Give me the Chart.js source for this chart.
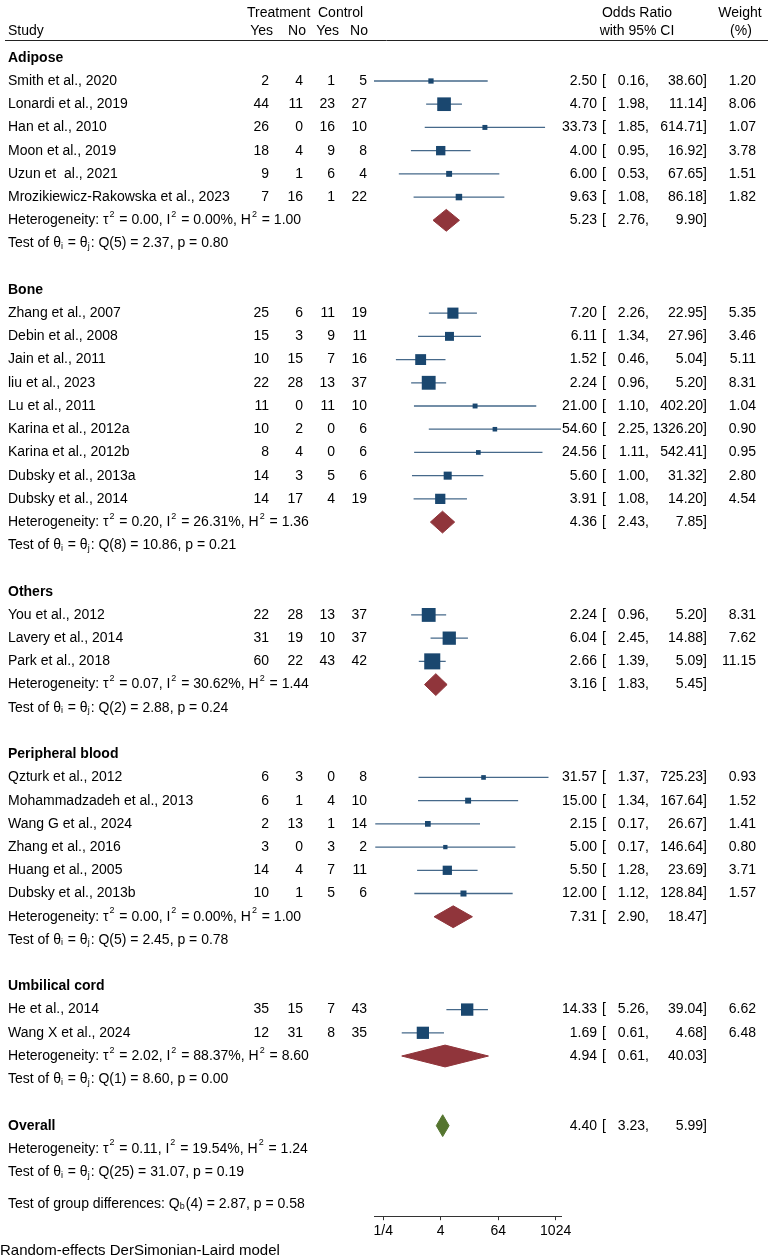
<!DOCTYPE html>
<html>
<head>
<meta charset="utf-8">
<title>Forest plot</title>
<script src="https://cdn.jsdelivr.net/npm/chart.js@4.4.1/dist/chart.umd.min.js"></script>
<style>
  html, body { margin: 0; padding: 0; background: #fff; }
  #wrap { width: 775px; height: 1258px; }
</style>
</head>
<body>
<div id="wrap"><canvas id="forest" width="775" height="1258"></canvas></div>
<script>
// ---- data ----
const groupNames = ['Adipose', 'Bone', 'Others', 'Peripheral blood', 'Umbilical cord'];

const studies = [
  'Smith et al., 2020', 'Lonardi et al., 2019', 'Han et al., 2010', 'Moon et al., 2019',
  'Uzun et  al., 2021', 'Mrozikiewicz-Rakowska et al., 2023',
  'Zhang et al., 2007', 'Debin et al., 2008', 'Jain et al., 2011', 'liu et al., 2023',
  'Lu et al., 2011', 'Karina et al., 2012a', 'Karina et al., 2012b', 'Dubsky et al., 2013a',
  'Dubsky et al., 2014',
  'You et al., 2012', 'Lavery et al., 2014', 'Park et al., 2018',
  'Qzturk et al., 2012', 'Mohammadzadeh et al., 2013', 'Wang G et al., 2024',
  'Zhang et al., 2016', 'Huang et al., 2005', 'Dubsky et al., 2013b',
  'He et al., 2014', 'Wang X et al., 2024'
];
const studyGroup = [0,0,0,0,0,0, 1,1,1,1,1,1,1,1,1, 2,2,2, 3,3,3,3,3,3, 4,4];

const treatYes = [2, 44, 26, 18, 9, 7, 25, 15, 10, 22, 11, 10, 8, 14, 14, 22, 31, 60, 6, 6, 2, 3, 14, 10, 35, 12];
const treatNo  = [4, 11, 0, 4, 1, 16, 6, 3, 15, 28, 0, 2, 4, 3, 17, 28, 19, 22, 3, 1, 13, 0, 4, 1, 15, 31];
const ctrlYes  = [1, 23, 16, 9, 6, 1, 11, 9, 7, 13, 11, 0, 0, 5, 4, 13, 10, 43, 0, 4, 1, 3, 7, 5, 7, 8];
const ctrlNo   = [5, 27, 10, 8, 4, 22, 19, 11, 16, 37, 10, 6, 6, 6, 19, 37, 37, 42, 8, 10, 14, 2, 11, 6, 43, 35];

const oddsRatio = [2.50, 4.70, 33.73, 4.00, 6.00, 9.63, 7.20, 6.11, 1.52, 2.24, 21.00, 54.60, 24.56, 5.60, 3.91,
                   2.24, 6.04, 2.66, 31.57, 15.00, 2.15, 5.00, 5.50, 12.00, 14.33, 1.69];
const ciLower  = [0.16, 1.98, 1.85, 0.95, 0.53, 1.08, 2.26, 1.34, 0.46, 0.96, 1.10, 2.25, 1.11, 1.00, 1.08,
                   0.96, 2.45, 1.39, 1.37, 1.34, 0.17, 0.17, 1.28, 1.12, 5.26, 0.61];
const ciUpper  = [38.60, 11.14, 614.71, 16.92, 67.65, 86.18, 22.95, 27.96, 5.04, 5.20, 402.20, 1326.20, 542.41, 31.32, 14.20,
                   5.20, 14.88, 5.09, 725.23, 167.64, 26.67, 146.64, 23.69, 128.84, 39.04, 4.68];
const weights  = [1.20, 8.06, 1.07, 3.78, 1.51, 1.82, 5.35, 3.46, 5.11, 8.31, 1.04, 0.90, 0.95, 2.80, 4.54,
                   8.31, 7.62, 11.15, 0.93, 1.52, 1.41, 0.80, 3.71, 1.57, 6.62, 6.48];

const groupOR  = [5.23, 4.36, 3.16, 7.31, 4.94];
const groupLo  = [2.76, 2.43, 1.83, 2.90, 0.61];
const groupHi  = [9.90, 7.85, 5.45, 18.47, 40.03];
const groupTau2 = [0.00, 0.20, 0.07, 0.00, 2.02];
const groupI2   = [0.00, 26.31, 30.62, 0.00, 88.37];
const groupH2   = [1.00, 1.36, 1.44, 1.00, 8.60];
const groupDf   = [5, 8, 2, 5, 1];
const groupQ    = [2.37, 10.86, 2.88, 2.45, 8.60];
const groupP    = [0.80, 0.21, 0.24, 0.78, 0.00];

const overallOR = 4.40, overallLo = 3.23, overallHi = 5.99;
const overallTau2 = 0.11, overallI2 = 19.54, overallH2 = 1.24;
const overallDf = 25, overallQ = 31.07, overallP = 0.19;
const diffDf = 4, diffQ = 2.87, diffP = 0.58;

const tickValues = [0.25, 4, 64, 1024];
const tickLabels = ['1/4', '4', '64', '1024'];

// ---- row layout ----
const studyRow = [];
const headRow = [], hetRow = [], testRow = [];
let r = 1;
groupNames.forEach((g, gi) => {
  headRow.push(r++);
  studies.forEach((s, i) => { if (studyGroup[i] === gi) studyRow[i] = r++; });
  hetRow.push(r++);
  testRow.push(r++);
  r++;
});
const overallRow = r;

const FONT = '"Liberation Sans", Arial, Helvetica, sans-serif';
const NAVY = '#1a476f', MAROON = '#90353b', GREEN = '#55752f';
const DH = 0.47; // diamond half height, in rows

// CI whiskers as one broken line
const ciPoints = [];
studies.forEach((s, i) => {
  ciPoints.push({x: ciLower[i], y: studyRow[i]}, {x: ciUpper[i], y: studyRow[i]}, {x: ciUpper[i], y: null});
});

function diamond(or, lo, hi, row) {
  return [{x: lo, y: row}, {x: or, y: row - DH}, {x: hi, y: row}, {x: or, y: row + DH}, {x: lo, y: row}];
}

const datasets = [
  {
    type: 'scatter',
    data: studies.map((s, i) => ({x: oddsRatio[i], y: studyRow[i]})),
    pointStyle: 'rect',
    pointRadius: ctx => 3.4 * Math.sqrt(weights[ctx.dataIndex]),
    backgroundColor: NAVY,
    borderColor: NAVY,
    borderWidth: 0,
    clip: false,
    order: 0
  },
  {
    type: 'line',
    data: ciPoints,
    borderColor: '#46698a',
    borderWidth: 1.3,
    pointRadius: 0,
    spanGaps: false,
    clip: false,
    order: 2
  }
];
groupNames.forEach((g, gi) => {
  datasets.push({
    type: 'line',
    data: diamond(groupOR[gi], groupLo[gi], groupHi[gi], hetRow[gi]),
    fill: 'shape',
    backgroundColor: MAROON,
    borderColor: MAROON,
    borderWidth: 1,
    pointRadius: 0,
    tension: 0,
    clip: false,
    order: 1
  });
});
datasets.push({
  type: 'line',
  data: diamond(overallOR, overallLo, overallHi, overallRow),
  fill: 'shape',
  backgroundColor: GREEN,
  borderColor: GREEN,
  borderWidth: 1,
  pointRadius: 0,
  tension: 0,
  clip: false,
  order: 1
});

// ---- text columns ----
function put(ctx, s, x, y, align, font) {
  ctx.font = font || ('14px ' + FONT);
  ctx.textAlign = align || 'left';
  ctx.fillText(s, x, y);
}

function rich(ctx, parts, x, y) {
  let cx = x;
  ctx.textAlign = 'left';
  parts.forEach(p => {
    if (typeof p === 'string') {
      ctx.font = '14px ' + FONT;
      ctx.fillText(p, cx, y);
      cx += ctx.measureText(p).width;
    } else if (p.sup) {
      ctx.font = '9px ' + FONT;
      ctx.fillText(p.sup, cx + 1, y - 6);
      cx += ctx.measureText(p.sup).width + 2;
    } else if (p.sub) {
      ctx.font = '9px ' + FONT;
      ctx.fillText(p.sub, cx, y + 3);
      cx += ctx.measureText(p.sub).width + 1;
    }
  });
}

const f2 = v => v.toFixed(2);
const hetParts = (t, i2, h2) => ['Heterogeneity: τ', {sup: '2'}, ' = ' + f2(t) + ', I', {sup: '2'},
  ' = ' + f2(i2) + '%, H', {sup: '2'}, ' = ' + f2(h2)];
const testParts = (df, q, p) => ['Test of θ', {sub: 'i'}, ' = θ', {sub: 'j'}, ': Q(' + df + ') = ' + f2(q) + ', p = ' + f2(p)];

function ciText(ctx, or, lo, hi, w, y) {
  put(ctx, f2(or), 597, y, 'right');
  put(ctx, '[', 602, y, 'left');
  put(ctx, f2(lo) + ',', 649, y, 'right');
  put(ctx, f2(hi) + ']', 707, y, 'right');
  if (w !== null) put(ctx, f2(w), 756, y, 'right');
}

const forestText = {
  id: 'forestText',
  afterDraw(chart) {
    const ctx = chart.ctx;
    const py = v => chart.scales.y.getPixelForValue(v);
    const bold = 'bold 14px ' + FONT;
    ctx.save();
    ctx.fillStyle = '#000';
    ctx.textBaseline = 'middle';

    // header
    put(ctx, 'Treatment', 247, py(-0.92));
    put(ctx, 'Control', 318, py(-0.92));
    put(ctx, 'Odds Ratio', 637, py(-0.92), 'center');
    put(ctx, 'Weight', 740, py(-0.92), 'center');
    put(ctx, 'Study', 8, py(-0.14));
    put(ctx, 'Yes', 273, py(-0.14), 'right');
    put(ctx, 'No', 306, py(-0.14), 'right');
    put(ctx, 'Yes', 339, py(-0.14), 'right');
    put(ctx, 'No', 368, py(-0.14), 'right');
    put(ctx, 'with 95% CI', 637, py(-0.14), 'center');
    put(ctx, '(%)', 741, py(-0.14), 'center');
    ctx.strokeStyle = '#222';
    ctx.lineWidth = 1;
    ctx.beginPath();
    ctx.moveTo(5, Math.round(py(0.25)) + 0.5);
    ctx.lineTo(768, Math.round(py(0.25)) + 0.5);
    ctx.stroke();

    groupNames.forEach((g, gi) => {
      put(ctx, g, 8, py(headRow[gi]), 'left', bold);
      rich(ctx, hetParts(groupTau2[gi], groupI2[gi], groupH2[gi]), 8, py(hetRow[gi]));
      rich(ctx, testParts(groupDf[gi], groupQ[gi], groupP[gi]), 8, py(testRow[gi]));
      ciText(ctx, groupOR[gi], groupLo[gi], groupHi[gi], null, py(hetRow[gi]));
    });

    studies.forEach((s, i) => {
      const y = py(studyRow[i]);
      put(ctx, s, 8, y);
      put(ctx, String(treatYes[i]), 269, y, 'right');
      put(ctx, String(treatNo[i]), 303, y, 'right');
      put(ctx, String(ctrlYes[i]), 335, y, 'right');
      put(ctx, String(ctrlNo[i]), 367, y, 'right');
      ciText(ctx, oddsRatio[i], ciLower[i], ciUpper[i], weights[i], y);
    });

    put(ctx, 'Overall', 8, py(overallRow), 'left', bold);
    ciText(ctx, overallOR, overallLo, overallHi, null, py(overallRow));
    rich(ctx, hetParts(overallTau2, overallI2, overallH2), 8, py(overallRow + 1));
    rich(ctx, testParts(overallDf, overallQ, overallP), 8, py(overallRow + 2));
    rich(ctx, ['Test of group differences: Q', {sub: 'b'}, '(' + diffDf + ') = ' + f2(diffQ) + ', p = ' + f2(diffP)],
      8, py(overallRow + 3.36));
    put(ctx, 'Random-effects DerSimonian-Laird model', 0, py(overallRow + 5.4), 'left', '15px ' + FONT);
    ctx.restore();
  }
};

new Chart(document.getElementById('forest'), {
  type: 'scatter',
  data: { datasets: datasets },
  options: {
    responsive: false,
    animation: false,
    layout: { padding: { left: 374, right: 214, top: 6, bottom: 15 } },
    plugins: { legend: { display: false }, tooltip: { enabled: false } },
    scales: {
      x: {
        type: 'logarithmic',
        min: Math.min(...ciLower),
        max: Math.max(...ciUpper),
        afterBuildTicks: scale => { scale.ticks = tickValues.map(v => ({ value: v })); },
        ticks: {
          callback: (v, i) => tickLabels[i],
          color: '#000',
          font: { family: FONT, size: 14 },
          padding: 3,
          maxRotation: 0,
          autoSkip: false
        },
        grid: { drawOnChartArea: false, drawTicks: true, tickLength: 4, color: '#333' },
        border: { display: true, color: '#333', width: 1 }
      },
      y: { type: 'linear', reverse: true, min: -1, max: 50.9, display: false }
    }
  },
  plugins: [forestText]
});
</script>
</body>
</html>
